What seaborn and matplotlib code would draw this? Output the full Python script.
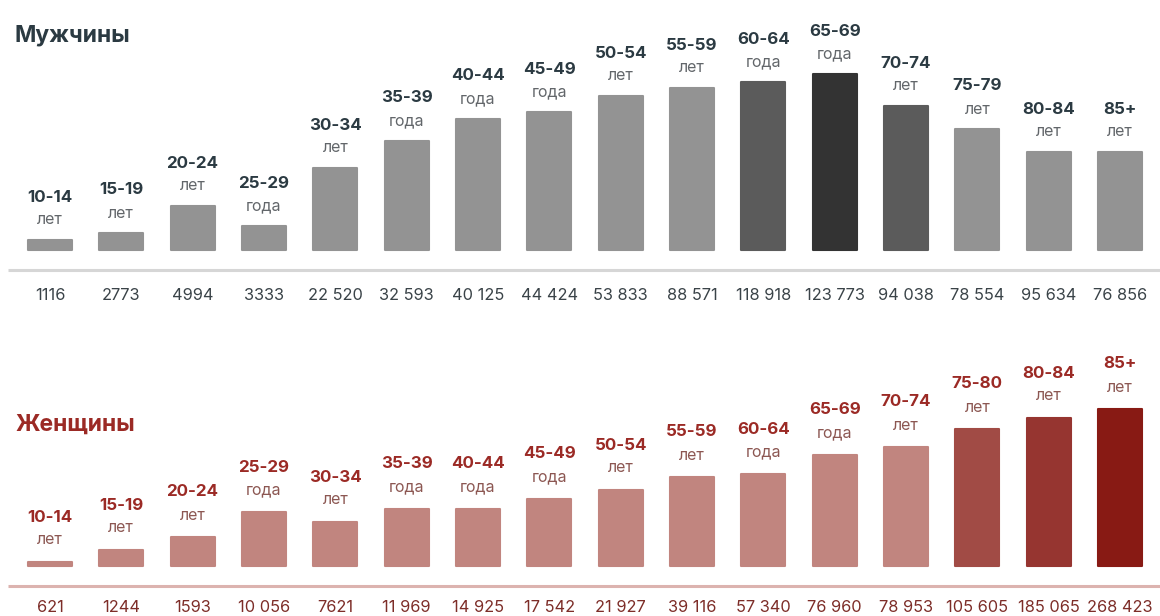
import matplotlib
matplotlib.use("Agg")
import matplotlib.pyplot as plt
import seaborn as sns
import pandas as pd

# Age groups and labels
men_ages = ["10-14", "15-19", "20-24", "25-29", "30-34", "35-39", "40-44", "45-49",
            "50-54", "55-59", "60-64", "65-69", "70-74", "75-79", "80-84", "85+"]
women_ages = ["10-14", "15-19", "20-24", "25-29", "30-34", "35-39", "40-44", "45-49",
              "50-54", "55-59", "60-64", "65-69", "70-74", "75-80", "80-84", "85+"]
men_units = ["лет", "лет", "лет", "года", "лет", "года", "года", "года",
             "лет", "лет", "года", "года", "лет", "лет", "лет", "лет"]
women_units = ["лет", "лет", "лет", "года", "лет", "года", "года", "года",
               "лет", "лет", "года", "года", "лет", "лет", "лет", "лет"]

# Case counts shown under each bar
men_counts = ["1116", "2773", "4994", "3333", "22 520", "32 593", "40 125", "44 424",
              "53 833", "88 571", "118 918", "123 773", "94 038", "78 554", "95 634", "76 856"]
women_counts = ["621", "1244", "1593", "10 056", "7621", "11 969", "14 925", "17 542",
                "21 927", "39 116", "57 340", "76 960", "78 953", "105 605", "185 065", "268 423"]

# Relative intensity index (bar heights)
men_index = [10, 17, 44, 24, 82, 109, 131, 138, 154, 162, 168, 176, 144, 121, 98, 98]
women_index = [4, 16, 29, 54, 44, 57, 57, 67, 76, 89, 92, 111, 119, 137, 148, 157]

men_colors = ["#939393"] * 10 + ["#5b5b5b", "#333333", "#5b5b5b"] + ["#939393"] * 3
women_colors = ["#c1857f"] * 13 + ["#a14b45", "#963530", "#881a14"]

sns.set_theme(style="white")
plt.rcParams["font.family"] = ["Inter", "DejaVu Sans"]

W, H = 1160, 616
fig = plt.figure(figsize=(W / 100, H / 100), dpi=100)
fig.patch.set_facecolor("white")


def panel(top_px, bottom_px, base_px, ages, units, counts, values, colors,
          title, title_y_px, head_color, unit_color, count_color, line_color,
          lab_off, count_y):
    ax = fig.add_axes([0, (H - bottom_px) / H, 1, (bottom_px - top_px) / H])
    df = pd.DataFrame({"age": ages, "value": values})
    sns.barplot(data=df, x="age", y="value", hue="age", palette=colors,
                legend=False, width=0.62, saturation=1, ax=ax)
    # softly rounded bar corners
    for p in ax.patches:
        p.set_edgecolor(p.get_facecolor())
        p.set_linewidth(1.5)
        p.set_joinstyle("round")
    ax.set_xlim(-0.70, 15.56)
    ax.set_ylim(-(bottom_px - base_px), base_px - top_px)
    ax.axis("off")
    # baseline rule
    ax.plot([-0.59, 15.56], [-20, -20], color=line_color, lw=2.2,
            solid_capstyle="butt", clip_on=False)
    for i, (a, u, c, v) in enumerate(zip(ages, units, counts, values)):
        ax.text(i, count_y, c, ha="center", va="center",
                fontsize=11.8, color=count_color)
        ax.text(i, v + lab_off, u, ha="center", va="center",
                fontsize=11.5, color=unit_color)
        ax.text(i, v + lab_off + 23, a, ha="center", va="center",
                fontsize=12.2, fontweight="bold", color=head_color)
    fig.text(15 / W, 1 - title_y_px / H, title, ha="left", va="center",
             fontsize=16.5, fontweight="bold", color=head_color)
    return ax


panel(0, 310, 250, men_ages, men_units, men_counts, men_index, men_colors,
      "Мужчины", 35, "#2b3a42", "#62666a", "#3a4348", "#d6d6d6", 20, -45)
panel(310, 616, 566, women_ages, women_units, women_counts, women_index, women_colors,
      "Женщины", 425, "#9b2a25", "#8c5752", "#7d2d28", "#dcb3af", 22, -41)

fig.savefig("out.png", dpi=100, facecolor="white")
